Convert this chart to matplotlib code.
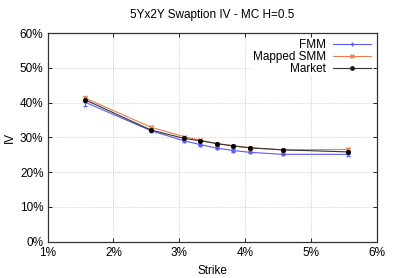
import numpy as np
import matplotlib
matplotlib.use('Agg')
import matplotlib.pyplot as plt
from matplotlib.ticker import FuncFormatter
from matplotlib.lines import Line2D

plt.rcParams['font.family'] = ['Liberation Sans', 'DejaVu Sans']

# strikes in %
strike = [1.57, 2.57, 3.07, 3.32, 3.57, 3.82, 4.07, 4.57, 5.57]
# implied vols in %
fmm = [40.1, 31.9, 29.0, 27.9, 26.9, 26.2, 25.7, 25.1, 25.1]
fmm_err = [1.0, 0.5, 0.4, 0.3, 0.3, 0.3, 0.3, 0.3, 0.4]
smm = [41.3, 32.9, 30.2, 29.2, 28.2, 27.6, 27.0, 26.4, 26.5]
smm_err = [0.5, 0.4, 0.3, 0.3, 0.3, 0.3, 0.3, 0.3, 0.4]
market = [40.8, 32.1, 29.7, 29.0, 28.2, 27.5, 27.0, 26.4, 25.8]

blue = '#5a5aff'
orange = '#e5804f'

fig = plt.figure(figsize=(3.97, 2.78), dpi=100)
ax = fig.add_axes([0.120, 0.131, 0.829, 0.750])

ax.errorbar(strike, fmm, yerr=fmm_err, color=blue, lw=0.8, marker='+', ms=3,
            capsize=1.5, elinewidth=0.7, zorder=3)
ax.errorbar(strike, smm, yerr=smm_err, color=orange, lw=0.8, marker='x', ms=2.5,
            capsize=1.5, elinewidth=0.7, zorder=3)
ax.plot(strike, market, color='#333333', lw=0.8, marker='o', ms=2.6,
        markerfacecolor='black', markeredgecolor='black', zorder=4)

ax.set_xlim(1, 6)
ax.set_ylim(0, 60)
ax.set_xticks(np.arange(1, 7, 1))
ax.set_yticks(np.arange(0, 70, 10))
pct = FuncFormatter(lambda v, p: '%d%%' % v)
ax.xaxis.set_major_formatter(pct)
ax.yaxis.set_major_formatter(pct)
ax.tick_params(direction='in', length=3, width=0.6, labelsize=8.5, top=True, right=True,
               pad=3)
ax.tick_params(axis='x', labeltop=False, pad=4)
ax.grid(True, color='#c4c4c4', lw=0.6, ls=(0, (1, 1.5)))
for s in ax.spines.values():
    s.set_linewidth(0.9)
    s.set_color('#333333')

ax.set_xlabel('Strike', fontsize=8.5, labelpad=4)
ax.set_ylabel('IV', fontsize=8.5, labelpad=3)
ax.set_title('5Yx2Y Swaption IV - MC H=0.5', fontsize=8.5, pad=11)

handles = [
    Line2D([], [], color=blue, lw=0.8, marker='+', ms=3),
    Line2D([], [], color=orange, lw=0.8, marker='x', ms=2.5),
    Line2D([], [], color='#333333', lw=0.8, marker='o', ms=2.6, markerfacecolor='black'),
]
leg = ax.legend(handles, ['FMM', 'Mapped SMM', 'Market'], loc='upper right',
                markerfirst=False, frameon=True, fontsize=8.5, handlelength=3.2,
                handletextpad=0.6, labelspacing=0.0, borderpad=0.1, borderaxespad=0.4)
leg.get_frame().set_edgecolor('none')
leg.get_frame().set_facecolor('white')
leg.get_frame().set_alpha(1)
for t in leg.get_texts():
    t.set_ha('right')

fig.savefig('out.png', dpi=100)
